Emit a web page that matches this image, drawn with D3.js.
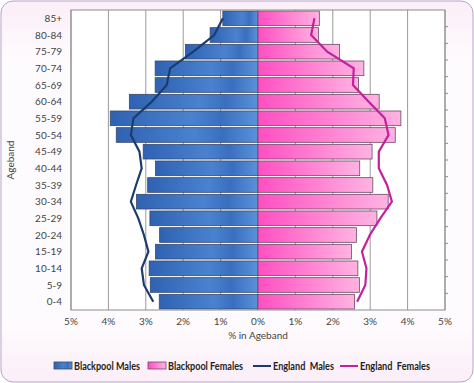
<!DOCTYPE html>
<html><head><meta charset="utf-8">
<script src="https://cdn.jsdelivr.net/npm/d3@7"></script>
<style>body{margin:0;background:#fff;}svg{display:block;font-family:Lato,"Open Sans",sans-serif;}</style>
</head><body><svg id="c" width="474" height="383"></svg>
<script>
const ageBands = ["85+","80-84","75-79","70-74","65-69","60-64","55-59","50-54","45-49","40-44","35-39","30-34","25-29","20-24","15-19","10-14","5-9","0-4"];
const blackpoolMales   = [0.94,1.28,1.94,2.75,2.75,3.44,3.95,3.79,3.07,2.74,2.95,3.25,2.89,2.63,2.74,2.91,2.88,2.64];
const blackpoolFemales = [1.64,1.62,2.18,2.83,2.69,3.24,3.82,3.67,3.05,2.72,3.07,3.48,3.18,2.63,2.50,2.67,2.71,2.58];
const englandMales     = [0.94,1.17,1.73,2.35,2.44,2.84,3.33,3.40,3.17,3.11,3.26,3.40,3.20,3.05,2.93,3.11,3.05,2.80];
const englandFemales   = [1.51,1.42,1.85,2.56,2.54,2.96,3.39,3.49,3.23,3.23,3.45,3.58,3.27,2.99,2.78,2.90,2.87,2.65];
const xTicks = [-5,-4,-3,-2,-1,0,1,2,3,4,5];
const legendLabels = ["Blackpool Males","Blackpool Females","England  Males","England  Females"];

const svg = d3.select("#c");
const defs = svg.append("defs");
const bg = defs.append("linearGradient").attr("id","bg").attr("x1",0).attr("y1",0).attr("x2",0).attr("y2",1);
bg.append("stop").attr("offset","0%").attr("stop-color","#fbeef8");
bg.append("stop").attr("offset","15%").attr("stop-color","#fefbfe");
bg.append("stop").attr("offset","85%").attr("stop-color","#fefbfe");
bg.append("stop").attr("offset","100%").attr("stop-color","#fbeef8");
const gm = defs.append("linearGradient").attr("id","gm").attr("x1",0).attr("y1",0).attr("x2",1).attr("y2",0);
gm.append("stop").attr("offset","0%").attr("stop-color","#2f62b2");
gm.append("stop").attr("offset","55%").attr("stop-color","#4a82d0");
gm.append("stop").attr("offset","75%").attr("stop-color","#3a6fbf");
gm.append("stop").attr("offset","100%").attr("stop-color","#5a92da");
const gf = defs.append("linearGradient").attr("id","gf").attr("x1",0).attr("y1",0).attr("x2",1).attr("y2",0);
gf.append("stop").attr("offset","0%").attr("stop-color","#ff4fc1");
gf.append("stop").attr("offset","100%").attr("stop-color","#ffb3e2");

svg.append("rect").attr("x",1).attr("y",1).attr("width",472).attr("height",381).attr("rx",12)
  .attr("fill","url(#bg)").attr("stroke","#b9a3c6").attr("stroke-width",1);

const L = 71, R = 445, T = 10, B = 310;
const x = d3.scaleLinear().domain([-5,5]).range([L,R]);
const y = d3.scaleBand().domain(ageBands).range([T,B]).paddingInner(0.12).paddingOuter(0.06);

svg.append("rect").attr("x",L).attr("y",T).attr("width",R-L).attr("height",B-T).attr("fill","#ffffff");
svg.append("g").selectAll("line").data(xTicks).join("line")
  .attr("x1",d=>x(d)).attr("x2",d=>x(d)).attr("y1",T).attr("y2",B)
  .attr("stroke","#9a9a9a").attr("stroke-width",1);

const bh = y.bandwidth();
svg.append("g").selectAll("rect").data(ageBands).join("rect")
  .attr("x",(d,i)=>x(-blackpoolMales[i])).attr("y",d=>y(d))
  .attr("width",(d,i)=>x(0)-x(-blackpoolMales[i])).attr("height",bh)
  .attr("fill","url(#gm)").attr("stroke","#3b4a6a").attr("stroke-width",0.8);
svg.append("g").selectAll("rect").data(ageBands).join("rect")
  .attr("x",x(0)).attr("y",d=>y(d))
  .attr("width",(d,i)=>x(blackpoolFemales[i])-x(0)).attr("height",bh)
  .attr("fill","url(#gf)").attr("stroke","#6a4a66").attr("stroke-width",0.8);

const line = d3.line().x(d=>x(d.v)).y(d=>y(d.a)+bh/2);
svg.append("path").datum(ageBands.map((a,i)=>({a,v:-englandMales[i]})))
  .attr("d",line).attr("fill","none").attr("stroke","#1b3d6e").attr("stroke-width",2.2);
svg.append("path").datum(ageBands.map((a,i)=>({a,v:englandFemales[i]})))
  .attr("d",line).attr("fill","none").attr("stroke","#c4209c").attr("stroke-width",2.2);

svg.append("rect").attr("x",L).attr("y",T).attr("width",R-L).attr("height",B-T)
  .attr("fill","none").attr("stroke","#8c8c8c");
const step = (B-T)/ageBands.length;
svg.append("g").selectAll("line").data(d3.range(1,ageBands.length)).join("line")
  .attr("x1",R).attr("x2",R+3).attr("y1",d=>T+d*step).attr("y2",d=>T+d*step).attr("stroke","#8c8c8c");

svg.append("g").selectAll("text").data(xTicks).join("text")
  .attr("x",d=>x(d)).attr("y",325).attr("text-anchor","middle").attr("font-size",10).attr("fill","#444")
  .text(d=>Math.abs(d)+"%");
svg.append("g").selectAll("text").data(ageBands).join("text")
  .attr("x",62).attr("y",d=>y(d)+bh/2).attr("dy","0.35em").attr("text-anchor","end").attr("font-size",10).attr("fill","#444")
  .text(d=>d);
svg.append("text").attr("x",258).attr("y",339).attr("text-anchor","middle").attr("font-size",10).attr("fill","#444").text("% in Ageband");
svg.append("text").attr("transform","translate(14,160) rotate(-90)").attr("text-anchor","middle").attr("font-size",10).attr("fill","#444").text("Ageband");

const lg = svg.append("g").attr("font-size",10.5).attr("font-weight","bold").attr("fill","#222");
const legendX = [54,148,253,340];
const legendW = [66,75,61,70];
legendLabels.forEach((t,i)=>{
  const lx = legendX[i];
  if(i===0) lg.append("rect").attr("x",lx).attr("y",362).attr("width",18).attr("height",7).attr("fill","url(#gm)").attr("stroke","#3b4a6a").attr("stroke-width",0.8);
  else if(i===1) lg.append("rect").attr("x",lx).attr("y",362).attr("width",18).attr("height",7).attr("fill","url(#gf)").attr("stroke","#6a4a66").attr("stroke-width",0.8);
  else lg.append("line").attr("x1",lx).attr("x2",lx+18).attr("y1",366).attr("y2",366).attr("stroke",i===2?"#1b3d6e":"#c4209c").attr("stroke-width",2);
  lg.append("text").attr("x",lx+20).attr("y",366).attr("dy","0.35em")
    .attr("textLength",legendW[i]).attr("lengthAdjust","spacingAndGlyphs")
    .style("white-space","pre").text(t);
});
</script></body></html>
